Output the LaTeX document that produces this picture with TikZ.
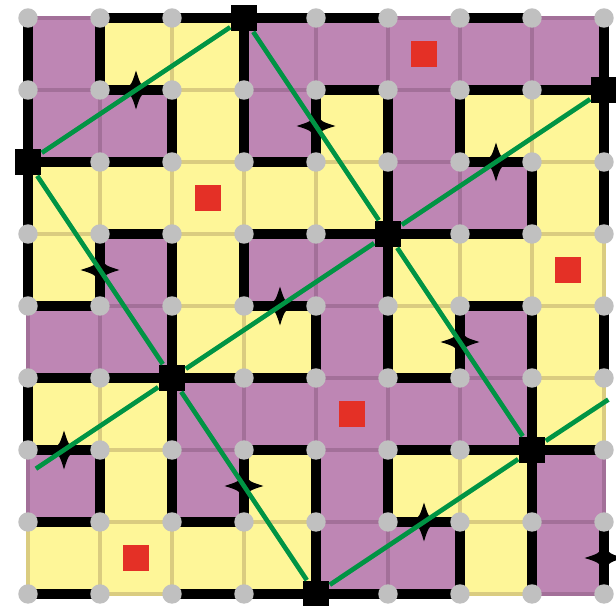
\documentclass[tikz,border=0pt]{standalone}
\usepackage{xcolor}
\usepackage{tikz}

\definecolor{plum}{RGB}{190,134,180}
\definecolor{plumedge}{RGB}{163,112,153}
\definecolor{lemon}{RGB}{254,246,152}
\definecolor{lemonedge}{RGB}{218,204,128}
\definecolor{dotgray}{RGB}{192,192,192}
\definecolor{wirec}{RGB}{0,148,68}
\definecolor{fluxred}{RGB}{228,48,38}
\colorlet{cell0}{lemon}
\colorlet{cell1}{plum}
\colorlet{edge0}{lemonedge}
\colorlet{edge1}{plumedge}

\begin{document}
\begin{tikzpicture}[x=1cm, y=-1cm,
  wall/.style={line width=0.13cm, line cap=rect},
  wire/.style={wirec, line width=0.065cm},
  vortex/.style={fill=black, minimum size=0.37cm, inner sep=0pt},
  flux/.style={fill=fluxred, minimum size=0.36cm, inner sep=0pt},
  spindle/.pic={\fill (0,-0.27) .. controls (0.06,-0.08) .. (0.16,0) .. controls (0.06,0.08) .. (0,0.27)
    .. controls (-0.06,0.08) .. (-0.16,0) .. controls (-0.06,-0.08) .. (0,-0.27) -- cycle;}]
  \useasboundingbox (-0.389,-0.25) rectangle (8.167,8.167);
  \foreach \row [count=\r from 0] in {{1,0,0,1,1,1,1,1},{1,1,0,1,0,1,0,0},{0,0,0,0,0,1,1,0},{0,1,0,1,1,0,0,0},
      {1,1,0,0,1,0,1,0},{0,0,1,1,1,1,1,0},{1,0,1,0,1,0,0,1},{0,0,0,0,1,1,0,1}}
    \foreach \v [count=\c from 0] in \row
      \filldraw[fill=cell\v, draw=edge\v, line width=0.055cm] (\c,\r) rectangle ++(1,1);
  \foreach \i/\r in {0/0,1/0,3/0,8/0, 0/1,2/1,3/1,4/1,5/1,6/1,8/1, 0/2,5/2,7/2,8/2, 0/3,1/3,2/3,3/3,5/3,
      2/4,4/4,5/4,6/4,7/4,8/4, 0/5,2/5,7/5, 1/6,2/6,3/6,4/6,5/6,7/6, 4/7,6/7,7/7,8/7}
    \draw[wall] (\i,\r) -- ++(0,1);
  \foreach \c/\j in {1/0,2/0,3/0,4/0,6/0, 1/1,4/1,6/1,7/1, 0/2,1/2,3/2,6/2, 1/3,3/3,4/3,5/3,6/3, 0/4,3/4,6/4,
      0/5,1/5,2/5,3/5,5/5, 0/6,3/6,5/6,6/6,7/6, 0/7,2/7,5/7, 0/8,2/8,3/8,4/8,5/8}
    \draw[wall] (\c,\j) -- ++(1,0);
  \foreach \p in {(1.5,1),(6.5,2),(3.5,4),(0.5,6),(5.5,7)}
    \pic at \p {spindle};
  \foreach \p in {(4,1.5),(1,3.5),(6,4.5),(3,6.5),(8,7.5)}
    \pic[rotate=90] at \p {spindle};
  \foreach \i in {0,...,8}
    \foreach \j in {0,...,8}
      \fill[dotgray] (\i,\j) circle (0.135);
  \node[vortex] (vTop) at (3,0) {};
  \node[vortex] (vLeft) at (0,2) {};
  \node[vortex] (vRight) at (8,1) {};
  \node[vortex] (vA) at (5,3) {};
  \node[vortex] (vB) at (2,5) {};
  \node[vortex] (vC) at (7,6) {};
  \node[vortex] (vBot) at (4,8) {};
  \coordinate (eL) at (0.11,6.26);
  \coordinate (eR) at (8.06,5.3);
  \draw[wire] (vLeft) -- (vTop);
  \draw[wire] (vTop) -- (vA) -- (vC);
  \draw[wire] (vLeft) -- (vB) -- (vBot);
  \draw[wire] (eL) -- (vB) -- (vA) -- (vRight);
  \draw[wire] (vBot) -- (vC) -- (eR);
  \node[flux] (f1) at (5.5,0.5) {};
  \node[flux] (f2) at (2.5,2.5) {};
  \node[flux] (f3) at (7.5,3.5) {};
  \node[flux] (f4) at (4.5,5.5) {};
  \node[flux] (f5) at (1.5,7.5) {};
\end{tikzpicture}
\end{document}
